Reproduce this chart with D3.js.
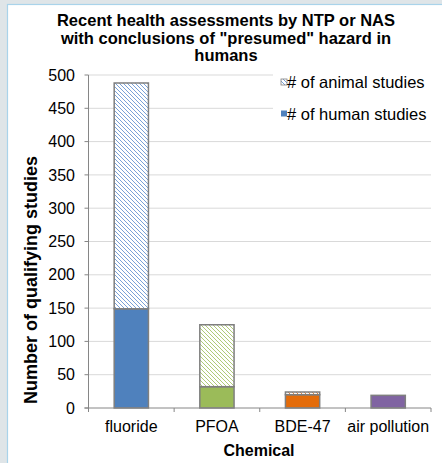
<!DOCTYPE html>
<html><head><meta charset="utf-8">
<script src="https://cdn.jsdelivr.net/npm/d3@7"></script>
<style>
html,body{margin:0;padding:0;background:#dfe5e8;}
svg{display:block;font-family:"Liberation Sans",Arial,sans-serif;}
</style></head>
<body>
<script>
const categories = ["fluoride", "PFOA", "BDE-47", "air pollution"];
const humanStudies = [149, 32, 20, 19];
const animalStudies = [339, 93, 4, 0];
const yTicks = [0, 50, 100, 150, 200, 250, 300, 350, 400, 450, 500];
const barColors = ["#4f81bd", "#9bbb59", "#e46c0a", "#8064a2"];
const hatchColors = ["#6b96d2", "#a6c46a", "#e87b2a", "#8f76ae"];
const legendLabels = ["# of animal studies", "# of human studies"];
const titleLines = ["Recent health assessments by NTP or NAS", "with conclusions of \"presumed\" hazard in", "humans"];

const W = 442, H = 463;
const svg = d3.select("body").append("svg").attr("width", W).attr("height", H);

// frame
svg.append("rect").attr("x", 0).attr("y", 0).attr("width", W).attr("height", H).attr("fill", "#dfe5e8");
svg.append("rect").attr("x", 7.5).attr("y", 4.5).attr("width", W).attr("height", H)
  .attr("fill", "#ffffff").attr("stroke", "#a9d3ea").attr("stroke-width", 1.2);

const defs = svg.append("defs");
hatchColors.forEach((c, i) => {
  const p = defs.append("pattern").attr("id", "hatch" + i).attr("patternUnits", "userSpaceOnUse")
    .attr("width", 4).attr("height", 4);
  p.append("rect").attr("width", 4).attr("height", 4).attr("fill", "#fff");
  p.append("path").attr("d", "M-1,-1 L5,5 M-1,3 L1,5 M3,-1 L5,1")
    .attr("stroke", c).attr("stroke-width", 0.9);
});

const pLeft = 88.5, pRight = 431, pTop = 75, pBottom = 408;
const x = d3.scaleBand().domain(categories).range([pLeft, pRight]).paddingInner(0.6).paddingOuter(0.3);
const xb = d3.scaleBand().domain(categories).range([pLeft, pRight]).padding(0);
const y = d3.scaleLinear().domain([0, 500]).range([pBottom, pTop]);

// gridlines
svg.append("g").selectAll("line").data(yTicks.filter(d => d > 0)).join("line")
  .attr("x1", pLeft).attr("x2", pRight).attr("y1", d => y(d)).attr("y2", d => y(d))
  .attr("stroke", "#d9d9d9").attr("stroke-width", 1);

// bars
const data = categories.map((c, i) => ({c, i, h: humanStudies[i], a: animalStudies[i]}));
const bars = svg.append("g");
bars.selectAll("rect.h").data(data).join("rect").attr("class", "h")
  .attr("x", d => x(d.c)).attr("width", x.bandwidth())
  .attr("y", d => y(d.h)).attr("height", d => y(0) - y(d.h))
  .attr("fill", d => barColors[d.i]).attr("stroke", "#7f7f7f").attr("stroke-width", 1.5);
bars.selectAll("rect.a").data(data).join("rect").attr("class", "a")
  .attr("x", d => x(d.c)).attr("width", x.bandwidth())
  .attr("y", d => y(d.h + d.a)).attr("height", d => y(d.h) - y(d.h + d.a))
  .attr("fill", d => `url(#hatch${d.i})`).attr("stroke", "#7f7f7f").attr("stroke-width", 1.5);

// axes
const axisColor = "#868686";
svg.append("line").attr("x1", pLeft).attr("x2", pLeft).attr("y1", pTop).attr("y2", pBottom).attr("stroke", axisColor);
svg.append("line").attr("x1", pLeft - 4).attr("x2", pRight).attr("y1", pBottom).attr("y2", pBottom).attr("stroke", axisColor);
svg.append("g").selectAll("line").data(yTicks).join("line")
  .attr("x1", pLeft - 4).attr("x2", pLeft).attr("y1", d => y(d)).attr("y2", d => y(d)).attr("stroke", axisColor);
const xt = categories.map(c => xb(c)).concat([pRight]);
svg.append("g").selectAll("line").data(xt).join("line")
  .attr("x1", d => d).attr("x2", d => d).attr("y1", pBottom).attr("y2", pBottom + 4).attr("stroke", axisColor);

svg.append("g").selectAll("text").data(yTicks).join("text")
  .attr("x", 75).attr("y", d => y(d)).attr("dy", "0.35em").attr("text-anchor", "end")
  .attr("font-size", 16).attr("fill", "#000").text(d => d);
svg.append("g").selectAll("text").data(categories).join("text")
  .attr("x", d => x(d) + x.bandwidth() / 2).attr("y", 432).attr("text-anchor", "middle")
  .attr("font-size", 16).attr("fill", "#000").text(d => d);

svg.append("text").attr("x", 259).attr("y", 456).attr("text-anchor", "middle")
  .attr("font-size", 16).attr("font-weight", "bold").text("Chemical");
svg.append("text").attr("transform", "translate(37,280) rotate(-90)").attr("text-anchor", "middle")
  .attr("font-size", 18).attr("font-weight", "bold").text("Number of qualifying studies");

// title
svg.append("g").selectAll("text").data(titleLines).join("text")
  .attr("x", 226).attr("y", (d, i) => 26 + i * 17.5).attr("text-anchor", "middle")
  .attr("font-size", 16.5).attr("font-weight", "bold").text(d => d);

// legend
const lg = svg.append("g");
lg.append("rect").attr("x", 273).attr("y", 68).attr("width", 158).attr("height", 60).attr("fill", "#fff");
const legendFills = ["url(#hatch0)", barColors[0]];
legendLabels.forEach((t, i) => {
  const yy = 88 + i * 31.5;
  lg.append("rect").attr("x", 281).attr("y", yy - 9).attr("width", 6).attr("height", 6)
    .attr("fill", legendFills[i]).attr("stroke", i === 0 ? "#7f7f7f" : "none").attr("stroke-width", 0.8);
  lg.append("text").attr("x", 287).attr("y", yy).attr("font-size", 16.5).text(t);
});
</script>
</body></html>
